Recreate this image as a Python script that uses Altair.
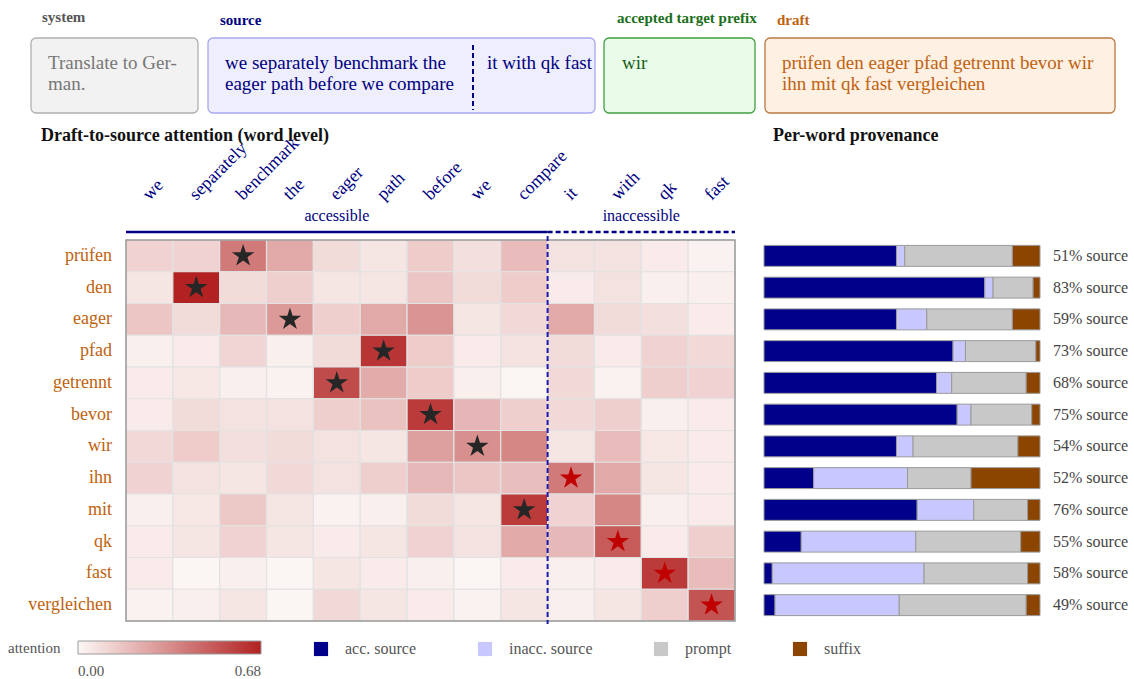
import altair as alt
import pandas as pd

FONT = "Liberation Serif"
NAVY = "#000080"
ORANGE = "#c0620e"

# ---------------- data ----------------
src_words = ["we", "separately", "benchmark", "the", "eager", "path", "before",
             "we", "compare", "it", "with", "qk", "fast"]
n_accessible = 9
draft_words = ["prüfen", "den", "eager", "pfad", "getrennt", "bevor", "wir",
               "ihn", "mit", "qk", "fast", "vergleichen"]

att_pruefen = [0.12, 0.12, 0.40, 0.25, 0.09, 0.06, 0.14, 0.08, 0.19, 0.07, 0.07, 0.04, 0.02]
att_den = [0.06, 0.68, 0.09, 0.13, 0.06, 0.06, 0.16, 0.09, 0.14, 0.04, 0.07, 0.03, 0.03]
att_eager = [0.16, 0.09, 0.20, 0.30, 0.13, 0.25, 0.32, 0.06, 0.10, 0.25, 0.09, 0.08, 0.04]
att_pfad = [0.03, 0.04, 0.11, 0.03, 0.09, 0.62, 0.14, 0.04, 0.07, 0.09, 0.04, 0.12, 0.10]
att_getrennt = [0.04, 0.05, 0.03, 0.02, 0.55, 0.24, 0.14, 0.03, 0.01, 0.10, 0.02, 0.13, 0.12]
att_bevor = [0.04, 0.09, 0.07, 0.07, 0.13, 0.17, 0.60, 0.21, 0.13, 0.10, 0.13, 0.03, 0.04]
att_wir = [0.10, 0.14, 0.08, 0.09, 0.07, 0.06, 0.28, 0.33, 0.36, 0.06, 0.19, 0.05, 0.04]
att_ihn = [0.12, 0.07, 0.06, 0.10, 0.07, 0.13, 0.20, 0.16, 0.18, 0.40, 0.25, 0.06, 0.04]
att_mit = [0.03, 0.05, 0.15, 0.06, 0.02, 0.03, 0.09, 0.06, 0.60, 0.12, 0.36, 0.03, 0.04]
att_qk = [0.04, 0.06, 0.12, 0.06, 0.04, 0.06, 0.12, 0.07, 0.25, 0.20, 0.50, 0.04, 0.13]
att_fast = [0.04, 0.01, 0.03, 0.01, 0.06, 0.04, 0.03, 0.01, 0.04, 0.03, 0.04, 0.60, 0.19]
att_vergleichen = [0.02, 0.03, 0.06, 0.01, 0.10, 0.06, 0.04, 0.02, 0.06, 0.03, 0.06, 0.13, 0.52]
attention = [att_pruefen, att_den, att_eager, att_pfad, att_getrennt, att_bevor,
             att_wir, att_ihn, att_mit, att_qk, att_fast, att_vergleichen]
att_max = 0.68

star_col = [2, 1, 3, 5, 4, 6, 7, 9, 8, 10, 11, 12]

prov_cats = ["acc. source", "inacc. source", "prompt", "suffix"]
prov_colors = ["#00008b", "#c8c8ff", "#c8c8c8", "#8b4500"]
acc_source = [0.48, 0.80, 0.48, 0.685, 0.625, 0.70, 0.48, 0.18, 0.555, 0.135, 0.03, 0.04]
inacc_source = [0.03, 0.03, 0.11, 0.045, 0.055, 0.05, 0.06, 0.34, 0.205, 0.415, 0.55, 0.45]
prompt_share = [0.39, 0.145, 0.31, 0.255, 0.27, 0.22, 0.38, 0.23, 0.195, 0.38, 0.375, 0.46]
suffix_share = [0.10, 0.025, 0.10, 0.015, 0.05, 0.03, 0.08, 0.25, 0.045, 0.07, 0.045, 0.05]

# ---------------- tables ----------------
heat_df = pd.DataFrame([
    {"row": draft_words[r], "ci": c, "att": attention[r][c]}
    for r in range(len(draft_words)) for c in range(len(src_words))
])
star_df = pd.DataFrame([
    {"row": draft_words[r], "ci": star_col[r],
     "col": "#262626" if star_col[r] < n_accessible else "#c00000"}
    for r in range(len(draft_words))
])
collab_df = pd.DataFrame({"ci": list(range(len(src_words))), "word": src_words})
group_df = pd.DataFrame({
    "name": ["accessible", "inaccessible"],
    "start": [0, n_accessible],
    "end": [n_accessible, len(src_words)],
})
group_df["mid"] = (group_df["start"] + group_df["end"]) / 2
rowlab_df = pd.DataFrame({"row": draft_words})

shares = [acc_source, inacc_source, prompt_share, suffix_share]
prov_df = pd.DataFrame([
    {"row": draft_words[r], "cat": prov_cats[k], "ord": k, "frac": shares[k][r]}
    for r in range(len(draft_words)) for k in range(4)
])
pct_df = pd.DataFrame({
    "row": draft_words,
    "label": [f"{round((a + b) * 100)}% source" for a, b in zip(acc_source, inacc_source)],
})

# ---------------- scales ----------------
HX = [126, 735]
HY = [240, 621]
xs = alt.Scale(type="band", domain=list(range(len(src_words))), range=HX,
               paddingInner=0, paddingOuter=0)
ys = alt.Scale(type="band", domain=draft_words, range=HY, paddingInner=0, paddingOuter=0)
xq = alt.Scale(domain=[0, len(src_words)], range=HX, nice=False, zero=False)
yq = alt.Scale(domain=[0, len(draft_words)], range=HY, nice=False, zero=False)
ybar = alt.Scale(type="band", domain=draft_words, range=HY, paddingInner=0.34, paddingOuter=0.17)
xbar = alt.Scale(domain=[0, 1], range=[764, 1040], nice=False)

# ---------------- layers ----------------
heat = alt.Chart(heat_df).mark_rect(stroke="#e2e2e2", strokeWidth=1.2).encode(
    x=alt.X("ci:O", scale=xs, axis=None),
    y=alt.Y("row:N", scale=ys, axis=None),
    color=alt.Color(
        "att:Q",
        scale=alt.Scale(domain=[0, att_max], range=["#fcf8f6", "#b22222"], interpolate="rgb"),
        legend=alt.Legend(
            orient="none", legendX=8, legendY=641, direction="horizontal",
            title="attention", titleOrient="left", titlePadding=17,
            titleFont=FONT, titleFontSize=15, titleFontWeight="normal", titleColor="#555",
            gradientLength=183, gradientThickness=13,
            gradientStrokeColor="#999", gradientStrokeWidth=1,
            values=[0, att_max], format=".2f", labelOffset=10,
            labelFont=FONT, labelFontSize=15, labelColor="#555",
        ),
    ),
)

border = alt.Chart(pd.DataFrame({"a": [0], "b": [len(src_words)], "c": [0], "d": [len(draft_words)]})).mark_rect(
    fillOpacity=0, stroke="#9a9a9a", strokeWidth=1.5
).encode(
    x=alt.X("a:Q", scale=xq, axis=None), x2="b:Q",
    y=alt.Y("c:Q", scale=yq, axis=None), y2="d:Q",
)

STAR = ("M0,-1L0.2245,-0.309L0.951,-0.309L0.363,0.118L0.588,0.809L0,0.382"
        "L-0.588,0.809L-0.363,0.118L-0.951,-0.309L-0.2245,-0.309Z")
stars = alt.Chart(star_df).mark_point(shape=STAR, filled=True, size=560, opacity=1, strokeWidth=0).encode(
    x=alt.X("ci:O", scale=xs, axis=None),
    y=alt.Y("row:N", scale=ys, axis=None),
    color=alt.Color("col:N", scale=None),
)

sep = alt.Chart(pd.DataFrame({"b": [n_accessible]})).mark_rule(
    strokeDash=[5, 3], strokeWidth=2, color="#1a1ab0"
).encode(x=alt.X("b:Q", scale=xq, axis=None), y=alt.value(236), y2=alt.value(624))

collabs = alt.Chart(collab_df).mark_text(
    angle=315, align="left", baseline="alphabetic", fontSize=18, color=NAVY, font=FONT
).encode(x=alt.X("ci:O", scale=xs, axis=None), y=alt.value(201), text="word:N")

grp_solid = alt.Chart(group_df).transform_filter("datum.name == 'accessible'").mark_rule(
    strokeWidth=2.5, color=NAVY
).encode(x=alt.X("start:Q", scale=xq, axis=None), x2="end:Q", y=alt.value(232))
grp_dash = alt.Chart(group_df).transform_filter("datum.name == 'inaccessible'").mark_rule(
    strokeWidth=2.5, color=NAVY, strokeDash=[5, 3]
).encode(x=alt.X("start:Q", scale=xq, axis=None), x2="end:Q", y=alt.value(232))
grp_text = alt.Chart(group_df).mark_text(
    fontSize=16, color=NAVY, font=FONT, baseline="middle"
).encode(x=alt.X("mid:Q", scale=xq, axis=None), y=alt.value(216), text="name:N")

rowlabs = alt.Chart(rowlab_df).mark_text(
    align="right", baseline="middle", fontSize=18, color=ORANGE, font=FONT
).encode(x=alt.value(112), y=alt.Y("row:N", scale=ys, axis=None), text="row:N")

bars = alt.Chart(prov_df).mark_bar(stroke="#9a9a9a", strokeWidth=1).encode(
    x=alt.X("frac:Q", stack="zero", scale=xbar, axis=None),
    y=alt.Y("row:N", scale=ybar, axis=None),
    color=alt.Color(
        "cat:N", scale=alt.Scale(domain=prov_cats, range=prov_colors),
        legend=alt.Legend(
            orient="none", legendX=313, legendY=641, direction="horizontal", columns=4,
            title=None, symbolType="square", symbolSize=200, symbolStrokeWidth=0,
            symbolOpacity=1, labelOffset=16, columnPadding=60,
            labelFont=FONT, labelFontSize=16, labelColor="#555",
        ),
    ),
    order=alt.Order("ord:Q"),
)

pct = alt.Chart(pct_df).mark_text(
    align="left", baseline="middle", fontSize=16, color="#444", font=FONT
).encode(x=alt.value(1053), y=alt.Y("row:N", scale=ybar, axis=None), text="label:N")

# ---------------- top context boxes ----------------
box_df = pd.DataFrame({
    "x": [31, 208, 604, 765], "x2": [198, 595, 755, 1115],
    "y": [38, 38, 38, 38], "y2": [113, 113, 113, 113],
    "fill": ["#f2f2f2", "#eeeefc", "#e9fce9", "#fff0e4"],
    "stroke": ["#b0b0b0", "#a8a8f0", "#3f9f3f", "#b97a40"],
})
boxes = alt.Chart(box_df).mark_rect(cornerRadius=5, strokeWidth=1.3).encode(
    x=alt.X("x:Q", scale=None, axis=None), x2="x2:Q",
    y=alt.Y("y:Q", scale=None, axis=None), y2="y2:Q",
    fill=alt.Fill("fill:N", scale=None), stroke=alt.Stroke("stroke:N", scale=None),
)
box_sep = alt.Chart(pd.DataFrame({"x": [473], "y": [45], "y2": [110]})).mark_rule(
    strokeDash=[5, 3], strokeWidth=2, color=NAVY
).encode(x=alt.X("x:Q", scale=None, axis=None), y=alt.Y("y:Q", scale=None, axis=None), y2="y2:Q")

head_df = pd.DataFrame({
    "x": [42, 220, 617, 777], "y": [17, 20, 18, 20],
    "text": ["system", "source", "accepted target prefix", "draft"],
    "color": ["#555555", NAVY, "#1a6e1a", ORANGE],
})
heads = alt.Chart(head_df).mark_text(
    align="left", baseline="middle", fontSize=15, fontWeight="bold", font=FONT
).encode(
    x=alt.X("x:Q", scale=None, axis=None), y=alt.Y("y:Q", scale=None, axis=None),
    text="text:N", color=alt.Color("color:N", scale=None),
)
body_df = pd.DataFrame({
    "x": [48, 48, 225, 225, 487, 622, 782, 782],
    "y": [63, 84, 63, 84, 63, 63, 63, 84],
    "text": ["Translate to Ger-", "man.", "we separately benchmark the",
             "eager path before we compare", "it with qk fast", "wir",
             "prüfen den eager pfad getrennt bevor wir", "ihn mit qk fast vergleichen"],
    "color": ["#777777", "#777777", NAVY, NAVY, NAVY, "#1a5e1a", ORANGE, ORANGE],
})
bodies = alt.Chart(body_df).mark_text(
    align="left", baseline="middle", fontSize=19, font=FONT
).encode(
    x=alt.X("x:Q", scale=None, axis=None), y=alt.Y("y:Q", scale=None, axis=None),
    text="text:N", color=alt.Color("color:N", scale=None),
)
title_df = pd.DataFrame({"x": [41, 773], "y": [136, 136],
                         "text": ["Draft-to-source attention (word level)", "Per-word provenance"]})
titles = alt.Chart(title_df).mark_text(
    align="left", baseline="middle", fontSize=18, fontWeight="bold", font=FONT, color="#111"
).encode(x=alt.X("x:Q", scale=None, axis=None), y=alt.Y("y:Q", scale=None, axis=None), text="text:N")

chart = alt.layer(
    boxes, box_sep, heads, bodies, titles,
    heat, stars, border, sep, collabs, grp_solid, grp_dash, grp_text, rowlabs,
    bars, pct,
).resolve_scale(
    x="independent", y="independent", color="independent"
).properties(
    width=1134, height=679, padding=0, autosize="none"
).configure_view(stroke=None)

chart.save("out.html", embed_options={"renderer": "svg", "actions": False})
